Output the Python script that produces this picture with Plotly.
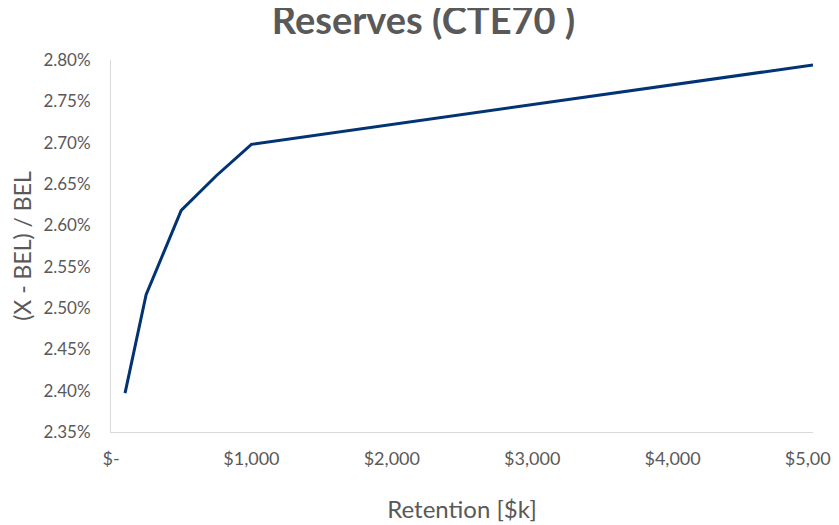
import plotly.graph_objects as go

# retention in $k vs (X - BEL) / BEL
retention = [100, 250, 500, 750, 1000, 5000]
ratio = [0.02397, 0.02516, 0.02618, 0.02660, 0.02698, 0.02794]

x_ticks = [0, 1000, 2000, 3000, 4000, 5000]
x_tick_text = ["$-", "$1,000", "$2,000", "$3,000", "$4,000", "$5,000"]

grey = "#595959"
font = "Lato, 'Open Sans', sans-serif"

fig = go.Figure(go.Scatter(
    x=retention, y=ratio, mode="lines",
    line=dict(color="#023373", width=3),
))

# the page puts the figure 8px in from the top-left corner, so sizes allow for that
fig.update_layout(
    width=831, height=517,
    paper_bgcolor="white", plot_bgcolor="white",
    margin=dict(l=103, r=26, t=52, b=93),
    showlegend=False,
    font=dict(family=font, color=grey, size=17),
    title=dict(text="<b>Reserves (CTE70 )</b>", x=0.5, xanchor="center",
               y=0.976, yanchor="middle", font=dict(size=38, color=grey)),
)
fig.update_xaxes(
    range=[0, 5000], tickvals=x_ticks, ticktext=x_tick_text,
    automargin=False, ticklabeloverflow="allow",
    showgrid=False, zeroline=False, showline=True, linecolor="#D9D9D9", linewidth=1,
    ticks="outside", ticklen=10, tickcolor="rgba(0,0,0,0)", tickfont=dict(size=18),
    title=dict(text="Retention [$k]", font=dict(size=24, color=grey), standoff=33),
)
fig.update_yaxes(
    range=[0.0235, 0.028], dtick=0.0005, tickformat=".2%", automargin=False,
    showgrid=False, zeroline=False, showline=True, linecolor="#D9D9D9", linewidth=1,
    ticks="outside", ticklen=16, tickcolor="rgba(0,0,0,0)", tickfont=dict(size=17),
    title=dict(text="(X - BEL) / BEL", font=dict(size=23, color=grey), standoff=21),
)

fig.write_html("out.html")
